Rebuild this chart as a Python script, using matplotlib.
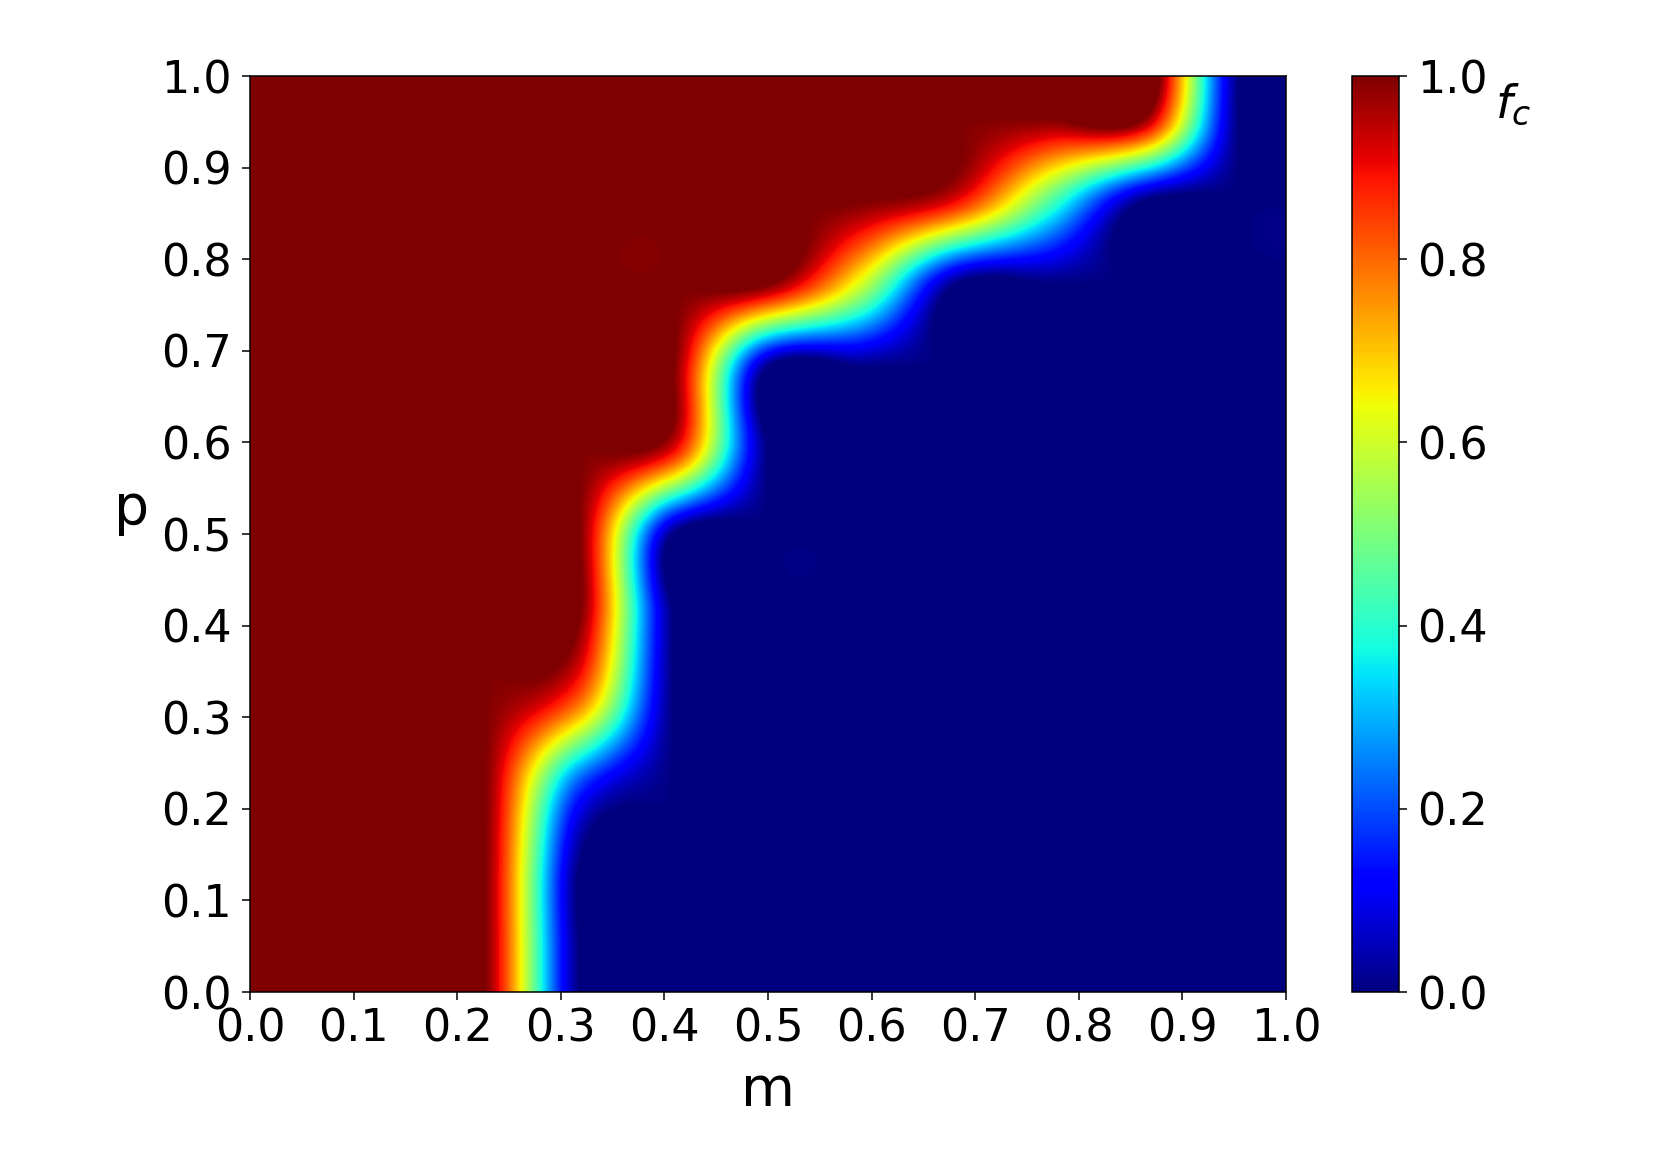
import numpy as np
import matplotlib
matplotlib.use("Agg")
import matplotlib.pyplot as plt

# f_c on an 11 x 11 grid of (m, p); rows bottom (p = 0) to top (p = 1), columns m = 0 -> 1
m_values = [0.0, 0.1, 0.2, 0.3, 0.4, 0.5, 0.6, 0.7, 0.8, 0.9, 1.0]
p_values = [0.0, 0.1, 0.2, 0.3, 0.4, 0.5, 0.6, 0.7, 0.8, 0.9, 1.0]
fc_rows = [
    [1, 1, 1, 0,    0,   0, 0,   0,   0,   0, 0],
    [1, 1, 1, 0,    0,   0, 0,   0,   0,   0, 0],
    [1, 1, 1, 0.2,  0,   0, 0,   0,   0,   0, 0],
    [1, 1, 1, 0.8,  0,   0, 0,   0,   0,   0, 0],
    [1, 1, 1, 1,    0,   0, 0,   0,   0,   0, 0],
    [1, 1, 1, 1,    0,   0, 0,   0,   0,   0, 0],
    [1, 1, 1, 1,    0.9, 0, 0,   0,   0,   0, 0],
    [1, 1, 1, 1,    1,   0, 0,   0,   0,   0, 0],
    [1, 1, 1, 1,    1,   1, 0.6, 0,   0,   0, 0],
    [1, 1, 1, 1,    1,   1, 1,   0.9, 0.45, 0, 0],
    [1, 1, 1, 1,    1,   1, 1,   1,   1,   1, 0],
]
tick_values = [0.0, 0.1, 0.2, 0.3, 0.4, 0.5, 0.6, 0.7, 0.8, 0.9, 1.0]
cbar_ticks = [0.0, 0.2, 0.4, 0.6, 0.8, 1.0]

W, H = 1661, 1174
fig = plt.figure(figsize=(W / 100, H / 100), dpi=100)
fs = 32
lfs = 40

ax_left, ax_right = 250, 1286
ax_top, ax_bottom = 76, 992
ax_h = ax_bottom - ax_top
ax = fig.add_axes([ax_left / W, 1 - ax_bottom / H, (ax_right - ax_left) / W, ax_h / H])
cax = fig.add_axes([1352 / W, 1 - ax_bottom / H, 47 / W, ax_h / H])

grid = np.array(fc_rows, dtype=float)
im = ax.imshow(grid, origin="lower", cmap="jet", vmin=0, vmax=1,
               extent=[0, 1, 0, 1], aspect="auto", interpolation="catrom",
               interpolation_stage="data")
ax.set_xlim(0, 1)
ax.set_ylim(0, 1)
ax.set_xticks(tick_values)
ax.set_yticks(tick_values)
ax.set_xticklabels([f"{v:.1f}" for v in tick_values])
ax.set_yticklabels([f"{v:.1f}" for v in tick_values])
ax.tick_params(labelsize=fs, length=6, width=1.1)
ax.tick_params(axis="x", pad=5)
ax.tick_params(axis="y", pad=7)
for s in ax.spines.values():
    s.set_linewidth(1.1)

ax.set_xlabel("m", fontsize=lfs, va="top")
ax.xaxis.set_label_coords(0.5, (ax_bottom - 1064) / ax_h)
ax.set_ylabel("p", fontsize=lfs, rotation=0, ha="center", va="center")
ax.yaxis.set_label_coords((132 - ax_left) / (ax_right - ax_left), (ax_bottom - 509) / ax_h)

cb = fig.colorbar(im, cax=cax, ticks=cbar_ticks)
cb.ax.set_yticklabels([f"{v:.1f}" for v in cbar_ticks])
cb.ax.tick_params(labelsize=fs, length=6, width=1.1, pad=7)
cb.outline.set_linewidth(1.1)
fig.text(1495 / W, 1 - 105 / H, "$f_c$", fontsize=34, ha="left", va="center")

fig.savefig("out.png", dpi=100)
